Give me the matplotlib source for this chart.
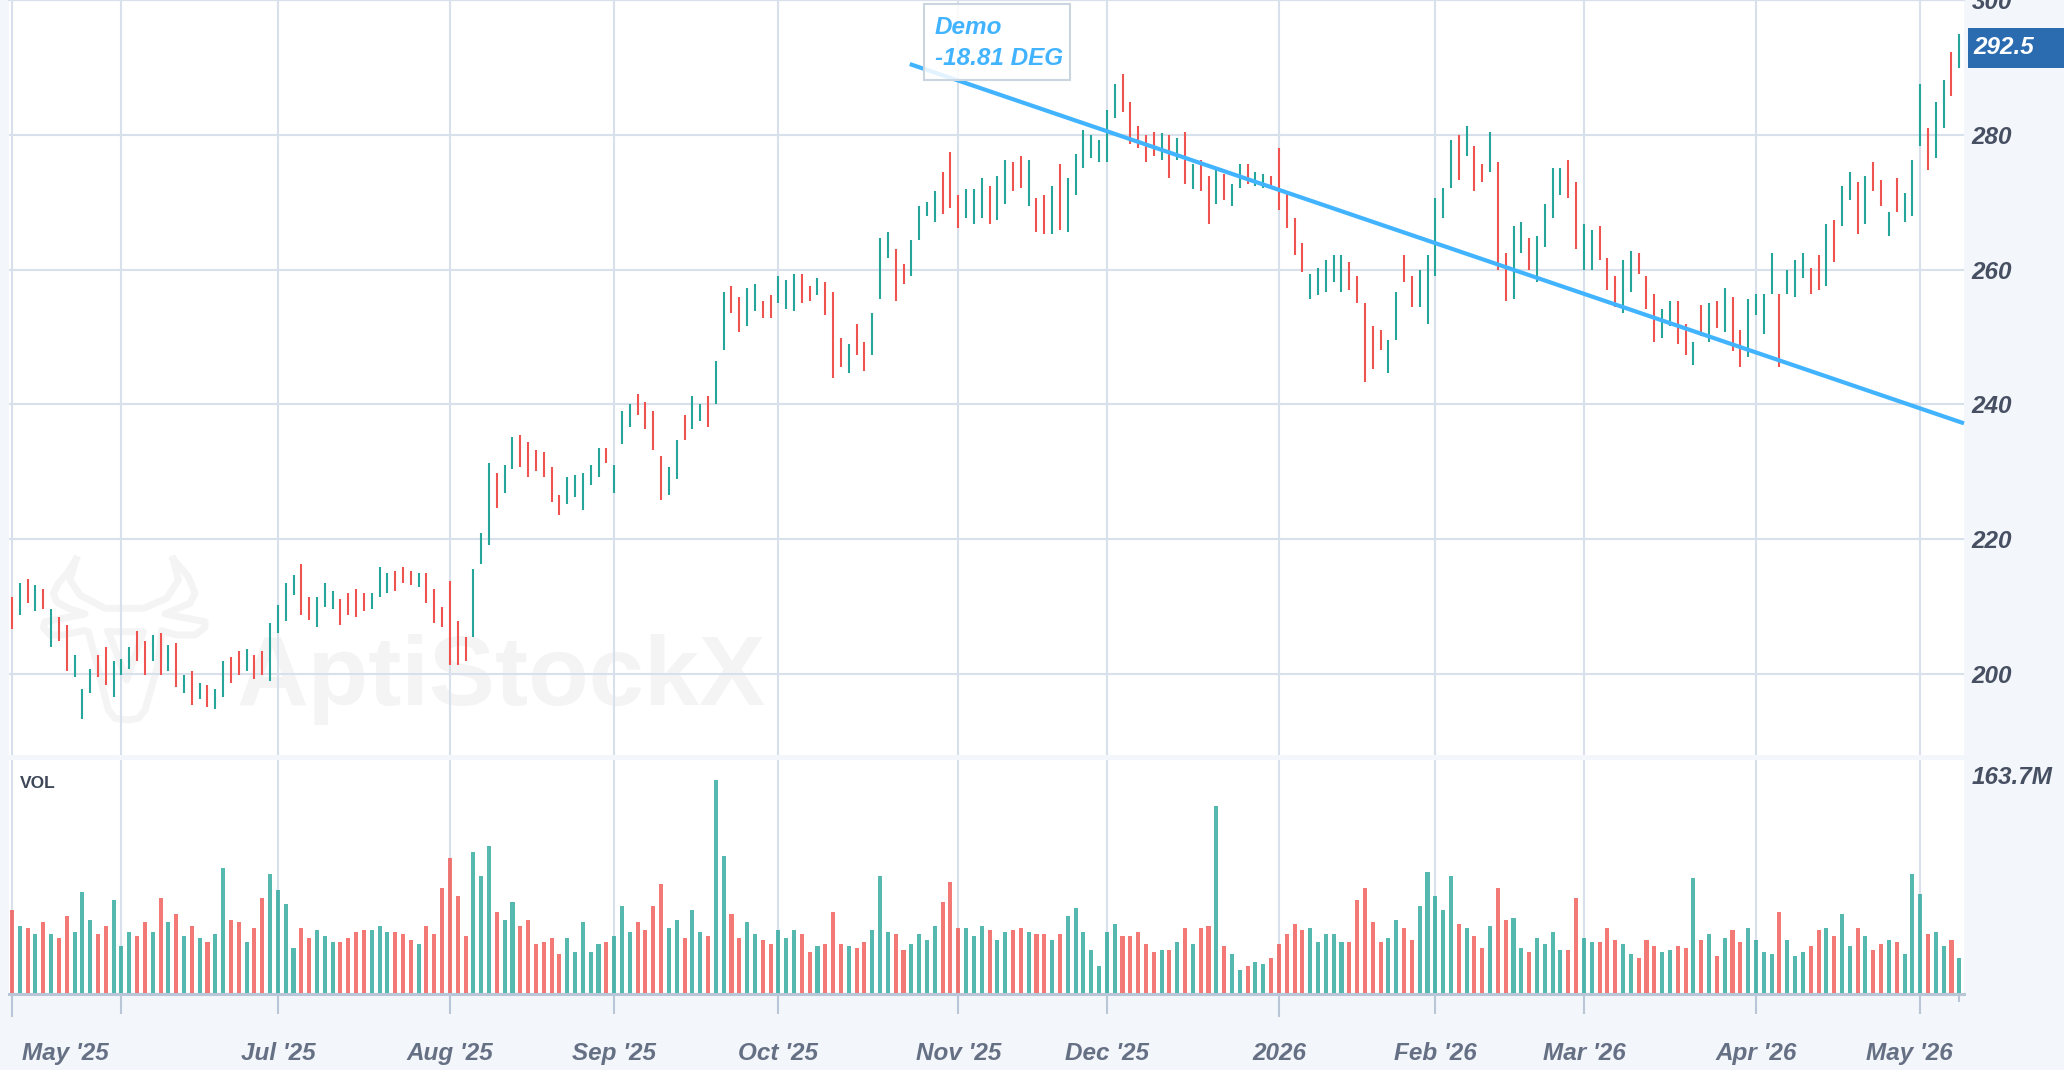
import matplotlib
matplotlib.use("Agg")
import matplotlib.pyplot as plt
from matplotlib.lines import Line2D
from matplotlib.patches import Rectangle
from matplotlib.transforms import ScaledTranslation

W, H = 2064, 1070

# daily high / low for each session
HIGH = [211.4, 213.5, 214.1, 213.2, 212.6, 209.6, 208.4, 207.3, 202.8, 197.8,
        200.7, 202.8, 204.0, 201.9, 202.2, 204.0, 206.4, 204.9, 205.8, 206.1,
        204.3, 204.6, 199.8, 200.4, 198.7, 198.4, 197.8, 201.9, 202.5, 203.4,
        203.7, 202.8, 203.4, 207.6, 210.2, 213.5, 214.7, 216.4, 211.4, 211.4,
        213.5, 212.3, 211.1, 212.0, 212.6, 212.0, 212.0, 215.9, 215.0, 215.3,
        215.9, 215.3, 215.0, 215.0, 212.6, 209.9, 213.8, 207.9, 205.5, 215.6,
        220.9, 231.3, 229.8, 231.0, 235.1, 235.4, 234.5, 233.3, 233.0, 230.7,
        226.5, 229.2, 229.5, 229.8, 231.0, 233.6, 233.6, 231.0, 239.0, 240.1,
        241.6, 240.4, 239.0, 232.4, 230.7, 234.8, 238.4, 241.3, 240.1, 241.3,
        246.4, 256.7, 257.6, 255.9, 257.3, 257.9, 255.3, 256.2, 259.1, 258.5,
        259.4, 259.4, 257.6, 258.8, 258.2, 256.7, 249.9, 249.0, 252.0, 249.3,
        253.5, 264.7, 265.6, 263.0, 260.9, 264.4, 269.5, 270.1, 271.6, 274.5,
        277.5, 271.0, 271.9, 271.9, 273.6, 272.4, 273.9, 276.3, 276.0, 276.9,
        276.3, 270.7, 271.0, 272.4, 275.7, 273.6, 277.2, 280.7, 279.9, 279.3,
        283.7, 287.6, 289.0, 284.9, 281.3, 279.9, 280.4, 280.2, 279.9, 279.6,
        280.4, 275.7, 276.3, 273.9, 274.8, 274.2, 272.7, 275.7, 275.7, 274.5,
        274.2, 273.9, 278.1, 271.3, 267.7, 263.9, 259.4, 260.3, 261.5, 262.1,
        262.1, 261.2, 259.1, 255.0, 251.7, 251.1, 249.6, 256.7, 262.1, 259.1,
        260.0, 262.1, 270.7, 272.1, 279.3, 279.9, 281.3, 278.4, 275.7, 280.4,
        276.0, 262.4, 266.5, 267.1, 264.7, 265.0, 269.8, 275.1, 275.1, 276.3,
        273.0, 266.8, 265.9, 266.5, 261.8, 259.1, 261.5, 262.7, 262.4, 259.1,
        256.4, 254.1, 255.3, 255.3, 252.0, 249.3, 254.7, 255.0, 255.3, 257.3,
        255.9, 251.1, 255.6, 256.4, 256.4, 262.4, 256.4, 260.0, 261.5, 262.4,
        260.3, 262.1, 266.8, 267.4, 272.4, 274.5, 273.0, 273.9, 276.0, 273.3,
        268.6, 273.6, 271.3, 276.3, 287.6, 281.0, 284.9, 288.1, 292.3, 295.0]

LOW = [206.7, 208.7, 210.5, 209.3, 209.6, 204.0, 204.9, 200.4, 199.6, 193.3,
       197.2, 199.6, 198.4, 196.6, 199.8, 200.7, 201.9, 199.8, 201.9, 199.8,
       200.4, 198.1, 197.2, 195.4, 196.3, 195.1, 194.8, 196.6, 198.7, 199.8,
       200.4, 199.3, 199.8, 199.0, 206.1, 207.9, 211.7, 208.7, 208.1, 207.0,
       209.9, 209.6, 207.3, 208.7, 208.4, 209.3, 209.6, 211.4, 212.0, 212.3,
       213.5, 213.2, 212.9, 210.5, 207.6, 207.0, 201.3, 201.3, 201.9, 205.5,
       216.4, 219.1, 224.7, 226.8, 230.4, 230.7, 229.2, 230.1, 229.2, 225.6,
       223.6, 225.3, 226.2, 224.4, 228.0, 229.2, 231.3, 226.8, 234.2, 236.6,
       238.4, 236.3, 233.3, 225.9, 226.5, 228.9, 234.8, 236.3, 237.5, 236.6,
       240.1, 248.1, 253.5, 250.8, 251.7, 253.8, 252.9, 252.9, 255.0, 254.1,
       253.8, 255.0, 255.3, 256.2, 253.2, 244.0, 245.5, 244.6, 247.3, 244.9,
       247.3, 255.6, 261.8, 255.3, 257.9, 259.1, 264.4, 268.0, 267.1, 268.3,
       269.2, 266.2, 267.7, 266.8, 267.7, 266.8, 267.4, 269.8, 271.6, 272.1,
       269.5, 265.6, 265.3, 265.3, 265.9, 265.6, 271.0, 275.1, 276.6, 276.0,
       276.0, 282.5, 283.4, 278.7, 278.1, 276.0, 276.9, 276.3, 273.6, 276.3,
       272.7, 271.9, 271.6, 266.8, 269.8, 270.4, 269.5, 272.1, 272.7, 272.4,
       272.1, 271.9, 268.9, 266.2, 262.1, 259.7, 255.6, 256.2, 256.7, 258.2,
       256.7, 257.0, 255.0, 243.4, 245.2, 248.1, 244.6, 249.6, 258.2, 254.4,
       254.4, 252.0, 259.1, 267.7, 272.1, 273.3, 276.9, 271.6, 273.0, 274.5,
       260.0, 255.3, 255.6, 262.4, 260.0, 258.2, 263.3, 267.7, 271.0, 270.7,
       263.0, 260.0, 260.0, 261.5, 257.0, 254.4, 253.5, 256.7, 259.4, 254.1,
       249.3, 249.9, 251.7, 249.0, 247.3, 245.8, 250.2, 249.3, 251.4, 250.8,
       247.9, 245.5, 247.0, 253.2, 250.5, 256.4, 245.5, 256.4, 255.9, 258.8,
       256.4, 257.0, 257.6, 261.2, 266.5, 270.4, 265.3, 266.8, 271.6, 269.5,
       265.0, 268.6, 267.1, 268.0, 278.4, 274.8, 276.6, 281.0, 285.8, 289.9]

# g = up day, r = down day
DIRECTION = ("rgrgrgrrgg" "grrgggrrgr" "grgrgrggrr" "grrggggrrg" "ggrrrrgggr"
             "rrgrrrrrrg" "ggrggrrrrr" "rgggggrggg" "rrrrggrggr" "ggrrggrrgg"
             "grrgrrrgrr" "gggrrggggr" "rrgggrggrr" "grrgrggggg" "ggrrrrrgrg"
             "rgrrgrggrg" "grrrrrgggg" "grrrrrggrr" "gggggrgrrg" "rrggrggggr"
             "rggrrrggrr" "rggrrgrgrg" "rrggggrggg" "rrgrggrgrr" "grgggrggrg")

# volume in millions
VOLUME = [64.0, 51.7, 50.1, 45.5, 54.7, 45.5, 42.5, 59.3, 47.1, 77.8,
          56.3, 45.5, 51.7, 71.6, 36.3, 47.1, 44.0, 54.7, 47.1, 73.2,
          54.7, 60.9, 44.0, 51.7, 42.5, 39.4, 45.5, 96.2, 56.3, 54.7,
          39.4, 50.1, 73.2, 91.6, 79.3, 68.6, 34.8, 50.1, 42.5, 48.6,
          44.0, 39.4, 39.4, 42.5, 47.1, 48.6, 48.6, 51.7, 47.1, 47.1,
          45.5, 40.9, 37.9, 51.7, 45.5, 80.8, 103.9, 74.7, 44.0, 108.5,
          90.0, 113.1, 62.4, 56.3, 70.1, 51.7, 56.3, 37.9, 39.4, 42.5,
          30.2, 42.5, 31.7, 54.7, 31.7, 37.9, 39.4, 44.0, 67.0, 47.1,
          54.7, 48.6, 67.0, 83.9, 50.1, 56.3, 42.5, 64.0, 47.1, 44.0,
          163.7, 105.4, 60.9, 42.5, 54.7, 45.5, 40.9, 37.9, 48.6, 42.5,
          48.6, 45.5, 31.7, 36.3, 37.9, 62.4, 37.9, 36.3, 34.8, 39.4,
          48.6, 90.0, 47.1, 45.5, 33.3, 37.9, 45.5, 40.9, 51.7, 70.1,
          85.4, 50.1, 50.1, 44.0, 51.7, 48.6, 40.9, 47.1, 48.6, 50.1,
          47.1, 45.5, 45.5, 40.9, 45.5, 59.3, 65.5, 47.1, 33.3, 21.0,
          47.1, 53.2, 44.0, 44.0, 47.1, 37.9, 31.7, 33.3, 33.3, 39.4,
          50.1, 37.9, 50.1, 51.7, 143.8, 36.3, 30.2, 17.9, 21.0, 24.0,
          22.5, 27.1, 37.9, 45.5, 53.2, 48.6, 50.1, 39.4, 45.5, 45.5,
          39.4, 39.4, 71.6, 80.8, 54.7, 39.4, 42.5, 56.3, 50.1, 40.9,
          67.0, 93.1, 74.7, 64.0, 90.0, 53.2, 50.1, 44.0, 34.8, 51.7,
          80.8, 56.3, 57.8, 34.8, 31.7, 42.5, 37.9, 47.1, 33.3, 33.3,
          73.2, 42.5, 39.4, 39.4, 50.1, 40.9, 37.9, 30.2, 27.1, 40.9,
          36.3, 31.7, 33.3, 36.3, 34.8, 88.5, 40.9, 45.5, 28.6, 42.5,
          48.6, 39.4, 50.1, 40.9, 31.7, 30.2, 62.4, 40.9, 28.6, 31.7,
          36.3, 48.6, 50.1, 44.0, 60.9, 36.3, 50.1, 44.0, 33.3, 37.9,
          40.9, 39.4, 30.2, 91.6, 76.2, 45.5, 47.1, 36.3, 40.9, 27.1]

TICK_POS = [0, 14, 34, 56, 77, 98, 121, 140, 162, 182, 201, 223, 244, 249]
TICK_LABELS = ["May '25", "", "Jul '25", "Aug '25", "Sep '25", "Oct '25", "Nov '25",
               "Dec '25", "2026", "Feb '26", "Mar '26", "Apr '26", "May '26", ""]
PRICE_TICKS = [200, 220, 240, 260, 280, 300]

TREND_X = [114.8, 249.6]
TREND_Y = [290.5, 237.2]

BG = "#f3f6fa"
GRID = "#d8e0ec"
AXIS = "#b8c6d8"
UP = "#26a69a"
DOWN = "#ef5350"
BLUE = "#42b4ff"
BOLD_IT = dict(family="Liberation Sans", weight="bold", style="italic")


def px(x, y):
    return x / W, 1 - y / H


def add_axes(left, top, right, bottom):
    ax = fig.add_axes([left / W, 1 - bottom / H, (right - left) / W, (bottom - top) / H])
    for s in ax.spines.values():
        s.set_visible(False)
    ax.set_xlim(-0.38, 249.6)
    return ax


fig = plt.figure(figsize=(W / 100, H / 100), dpi=100, facecolor=BG)
colors = [UP if d == "g" else DOWN for d in DIRECTION]
x = list(range(len(HIGH)))

# price pane
ax = add_axes(9, 0, 1964, 755)
ax.set_ylim(188, 299.9)
wicks = ax.vlines(x, LOW, HIGH, colors=colors, linewidth=1.5, zorder=3, capstyle="butt")
wicks.set_snap(True)
ax.plot(TREND_X, TREND_Y, color=BLUE, lw=3.0, zorder=4, solid_capstyle="butt", clip_on=False)
ax.set_xticks(TICK_POS[:-1], labels=[])
ax.set_yticks(PRICE_TICKS)
ax.yaxis.tick_right()
ax.tick_params(axis="x", length=0)
ax.tick_params(axis="y", length=0, pad=5.5, labelcolor="#465062", labelsize=17.5)
for lab in ax.get_yticklabels():
    lab.set(**BOLD_IT)
    lab.set_clip_on(False)
ax.grid(True, color=GRID, lw=1.5, zorder=1)
ax.set_axisbelow(True)
# the 300 gridline falls just off the top, the spine stands in for it
ax.spines["top"].set_visible(True)
ax.spines["top"].set(color=GRID, linewidth=1.5)

# watermark, under the grid
ax.text(*px(237, 705), "AptiStockX", transform=fig.transFigure, color="#f4f4f5", fontsize=71.5,
        family="Liberation Sans", weight="bold", ha="left", va="baseline", zorder=0.5)
logo = [
    [(138, 58), (115, 95), (85, 130), (70, 160), (80, 185), (115, 205), (165, 222), (45, 245),
     (40, 262), (60, 285), (100, 285), (160, 272), (175, 275), (200, 370), (235, 510), (255, 535),
     (295, 540), (325, 535), (345, 510), (385, 370), (395, 272), (440, 285), (495, 285),
     (525, 262), (525, 245), (405, 222), (480, 190), (495, 160), (475, 110), (430, 58)],
    [(138, 58), (120, 120), (150, 165), (225, 205), (340, 205), (410, 175), (445, 120), (430, 58)],
    [(235, 275), (290, 420), (340, 275), (235, 275)],
]
for part in logo:
    pts = [px(30 + a / 3, 540 + b / 3) for a, b in part]
    ax.add_line(Line2D([p[0] for p in pts], [p[1] for p in pts], transform=fig.transFigure,
                       color="#f4f4f5", lw=5, zorder=0.5, solid_joinstyle="round"))

# volume pane
ax_vol = add_axes(9, 760, 1964, 994)
ax_vol.set_ylim(-0.77, 179)
ax_vol.bar(x, VOLUME, width=0.52, color=colors, alpha=0.78, linewidth=0, zorder=3)
ax_vol.set_yticks([])
ax_vol.set_xticks(TICK_POS, labels=TICK_LABELS, color="#667085", fontsize=17.5, **BOLD_IT)
ax_vol.tick_params(axis="x", length=14.4, width=1.5, color=AXIS, pad=20.5)
ax_vol.grid(True, axis="x", color=GRID, lw=1.5, zorder=1)
ax_vol.set_axisbelow(True)
ax_vol.spines["bottom"].set_visible(True)
ax_vol.spines["bottom"].set(color=AXIS, linewidth=2.2)

ticks = ax_vol.xaxis.get_major_ticks()
ticks[0].tick1line.set_markersize(16.5)
ticks[8].tick1line.set_markersize(16.5)
ticks[-1].tick1line.set_markersize(6)
ticks[-1].gridline.set_visible(False)
# the two May labels sit off their ticks so they stay inside the plot width
for tick, dx in ((ticks[0], 53.5), (ticks[12], -10.5)):
    lab = tick.label1
    lab.set_transform(lab.get_transform() + ScaledTranslation(dx / 100, 0, fig.dpi_scale_trans))

fig.text(*px(20, 784), "VOL", color="#3d4757", fontsize=12.5, weight="bold",
         family="Liberation Sans", va="center")
fig.text(*px(1972, 777.5), "163.7M", color="#465062", fontsize=17.5, va="center", **BOLD_IT)

# last price tag
fig.add_artist(Rectangle(px(1968, 68), 96 / W, 40 / H, transform=fig.transFigure,
                         facecolor="#2b6cb0", edgecolor="none"))
fig.text(*px(1973, 47), "292.5", color="white", fontsize=17.5, va="center", **BOLD_IT)

# trend line annotation
fig.add_artist(Rectangle(px(924, 80), 146 / W, 76 / H, transform=fig.transFigure,
                         facecolor=(1, 1, 1, 0.85), edgecolor="#cbd5e0", linewidth=1.5))
fig.text(*px(935, 27), "Demo", color=BLUE, fontsize=17.5, va="center", **BOLD_IT)
fig.text(*px(935, 58.5), "-18.81 DEG", color=BLUE, fontsize=17.5, va="center", **BOLD_IT)

fig.savefig("out.png", dpi=100, facecolor=BG)
